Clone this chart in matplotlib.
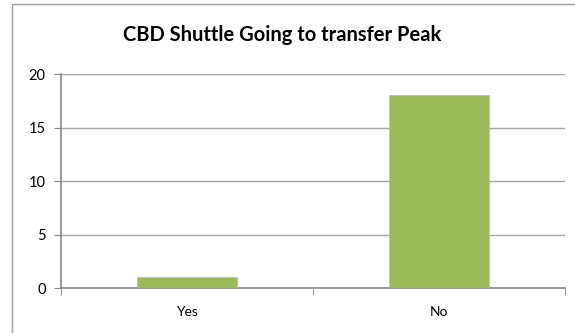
import matplotlib.pyplot as plt
from matplotlib.patches import Rectangle

categories = ['Yes', 'No']
counts = [1, 18]
y_ticks = [0, 5, 10, 15, 20]
title = 'CBD Shuttle Going to transfer Peak'

plt.rcParams['font.family'] = ['Lato', 'DejaVu Sans']

fig = plt.figure(figsize=(5.75, 3.33), dpi=100)
ax = fig.add_axes([61/575, 1 - 288/333, 504/575, 214/333])

# chart border like the spreadsheet frame
fig.patches.append(Rectangle((12/575, -0.05), 1.2, 1 - 4/333 + 0.05,
                             transform=fig.transFigure, fill=False,
                             edgecolor='#9A9A9A', lw=1))

x = range(len(categories))
ax.bar(x, counts, width=0.4, color='#9BBB59', edgecolor='#B5CF82', lw=0.6, zorder=3)

ax.set_xlim(-0.5, len(categories) - 0.5)
ax.set_ylim(0, 20)
ax.set_yticks(y_ticks)
ax.yaxis.grid(True, color='#A6A6A6', lw=1)
ax.set_axisbelow(True)

ax.set_xticks(x)
ax.set_xticklabels(categories)
ax.set_xticks([-0.5, 0.5, 1.5], minor=True)
ax.tick_params(axis='x', which='major', length=0, pad=13, labelsize=10)
ax.tick_params(axis='x', which='minor', length=5, color='#868686')
ax.tick_params(axis='y', length=5, color='#868686', labelsize=10.5, pad=6)

for s in ['top', 'right']:
    ax.spines[s].set_visible(False)
for s in ['left', 'bottom']:
    ax.spines[s].set_color('#868686')
    ax.spines[s].set_linewidth(1.2)

fig.text(282/575, 1 - 35/333, title, ha='center', va='center',
         fontsize=14.5, fontweight='bold')

fig.savefig('out.png', dpi=100)
